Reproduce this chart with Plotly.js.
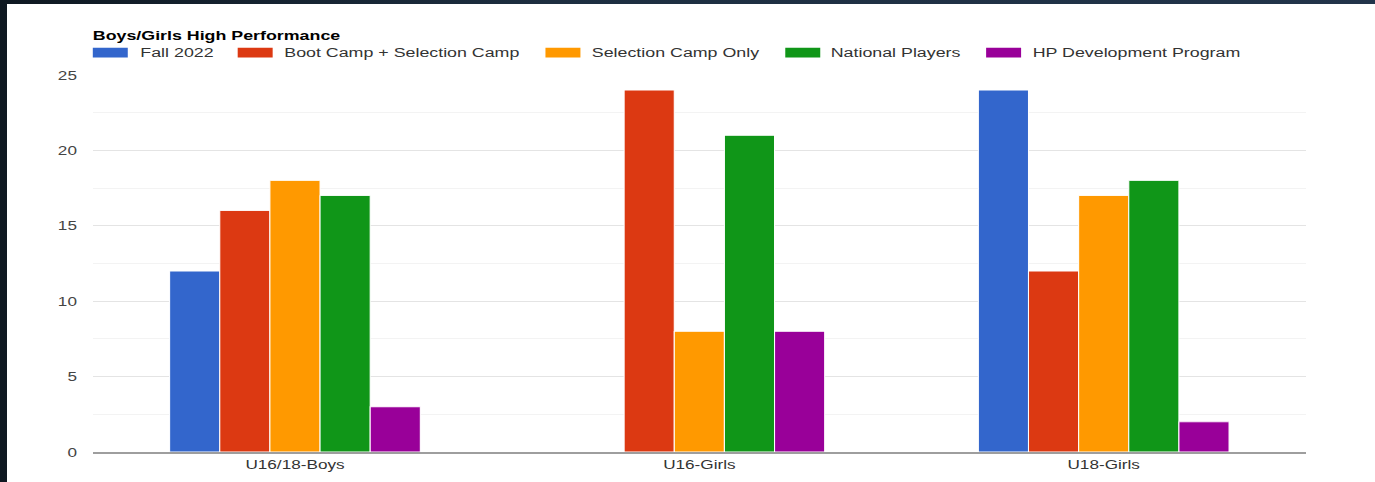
<!DOCTYPE html>
<html>
<head>
<meta charset="utf-8">
<script src="https://cdn.plot.ly/plotly-3.0.1.min.js"></script>
<style>
  html, body { margin: 0; padding: 0; width: 1375px; height: 482px; overflow: hidden;
    background: linear-gradient(90deg, #0e1821 0%, #1d2e40 40%, #22344a 100%); }
  #wrap { position: absolute; left: 7px; top: 4px; width: 1368px; height: 478px; background: #fff; overflow: hidden; }
  #chart { position: absolute; left: 0; top: 0; transform-origin: 0 0; }
</style>
</head>
<body>
<div id="wrap"><div id="chart"></div></div>
<script>
const categories = ["U16/18-Boys", "U16-Girls", "U18-Girls"];
const seriesNames = ["Fall 2022", "Boot Camp + Selection Camp", "Selection Camp Only", "National Players", "HP Development Program"];
const fall2022 = [12, 0, 24];
const bootCamp = [16, 24, 12];
const selectionOnly = [18, 8, 17];
const nationalPlayers = [17, 21, 18];
const hpDevelopment = [3, 8, 2];
const yTicks = [0, 5, 10, 15, 20, 25];
const colors = ["#3366cc", "#dc3912", "#ff9900", "#109618", "#990099"];

const seriesValues = [fall2022, bootCamp, selectionOnly, nationalPlayers, hpDevelopment];

// the reference is horizontally stretched; render narrower and scale in X
const S = 1.32;
const WF = 1368, H = 478;
const W = WF / S;
document.getElementById("chart").style.transform = "scaleX(" + S + ")";

const mL = 86 / S, mR = 68 / S, mT = 71, mB = 30;
const margin = {l: mL, r: mR, t: mT, b: mB, pad: 0};

const data = seriesValues.map((vals, i) => ({
  type: "bar",
  name: seriesNames[i],
  x: categories,
  y: vals,
  marker: {color: colors[i], line: {color: "#ffffff", width: 0.8}},
  hoverinfo: "x+y+name",
  showlegend: false
}));

// custom legend (wide swatches), positions in final pixels of the white panel
const legendItems = [
  {sx: 86, tx: 131},
  {sx: 231, tx: 275},
  {sx: 539, tx: 583},
  {sx: 779, tx: 822},
  {sx: 980, tx: 1024}
];
const pw = W - mL - mR;
const px = x => (x / S - mL) / pw;
const ph = H - mT - mB;
const py = y => 1 - (y - mT) / ph;

const font = "Liberation Sans, Arial, sans-serif";
const shapes = [];
const annotations = [];
legendItems.forEach((it, i) => {
  shapes.push({type: "rect", xref: "paper", yref: "paper",
    x0: px(it.sx), x1: px(it.sx + 35), y0: py(53.5), y1: py(43.7),
    fillcolor: colors[i], line: {width: 0}});
  annotations.push({xref: "paper", yref: "paper", x: px(it.tx), y: py(48.6),
    xanchor: "left", yanchor: "middle", showarrow: false, text: seriesNames[i],
    font: {family: font, size: 13.5, color: "#333"}});
});

const layout = {
  width: W, height: H,
  margin: margin,
  paper_bgcolor: "#ffffff",
  plot_bgcolor: "#ffffff",
  title: {text: "<b>Boys/Girls High Performance</b>", x: px(86), xanchor: "left", xref: "paper",
    y: 1 - 30.8 / H, yanchor: "middle",
    font: {family: font, size: 13.5, color: "#000"}},
  barmode: "group",
  bargap: 0.38,
  bargroupgap: 0,
  xaxis: {
    showgrid: false, showline: true, linecolor: "#9e9e9e", linewidth: 1.5,
    tickfont: {family: font, size: 13, color: "#333"},
    ticks: "", fixedrange: true
  },
  yaxis: {
    range: [0, 25], tickvals: yTicks, ticktext: yTicks.map(String),
    gridcolor: "#e4e4e4", gridwidth: 1, zeroline: false,
    minor: {dtick: 2.5, tick0: 0, showgrid: true, gridcolor: "#f3f3f3", gridwidth: 1},
    ticks: "", ticklabelstandoff: 11,
    tickfont: {family: font, size: 13, color: "#444"},
    fixedrange: true
  },
  shapes: shapes,
  annotations: annotations
};

Plotly.newPlot("chart", data, layout, {displayModeBar: false, staticPlot: true});
</script>
</body>
</html>
